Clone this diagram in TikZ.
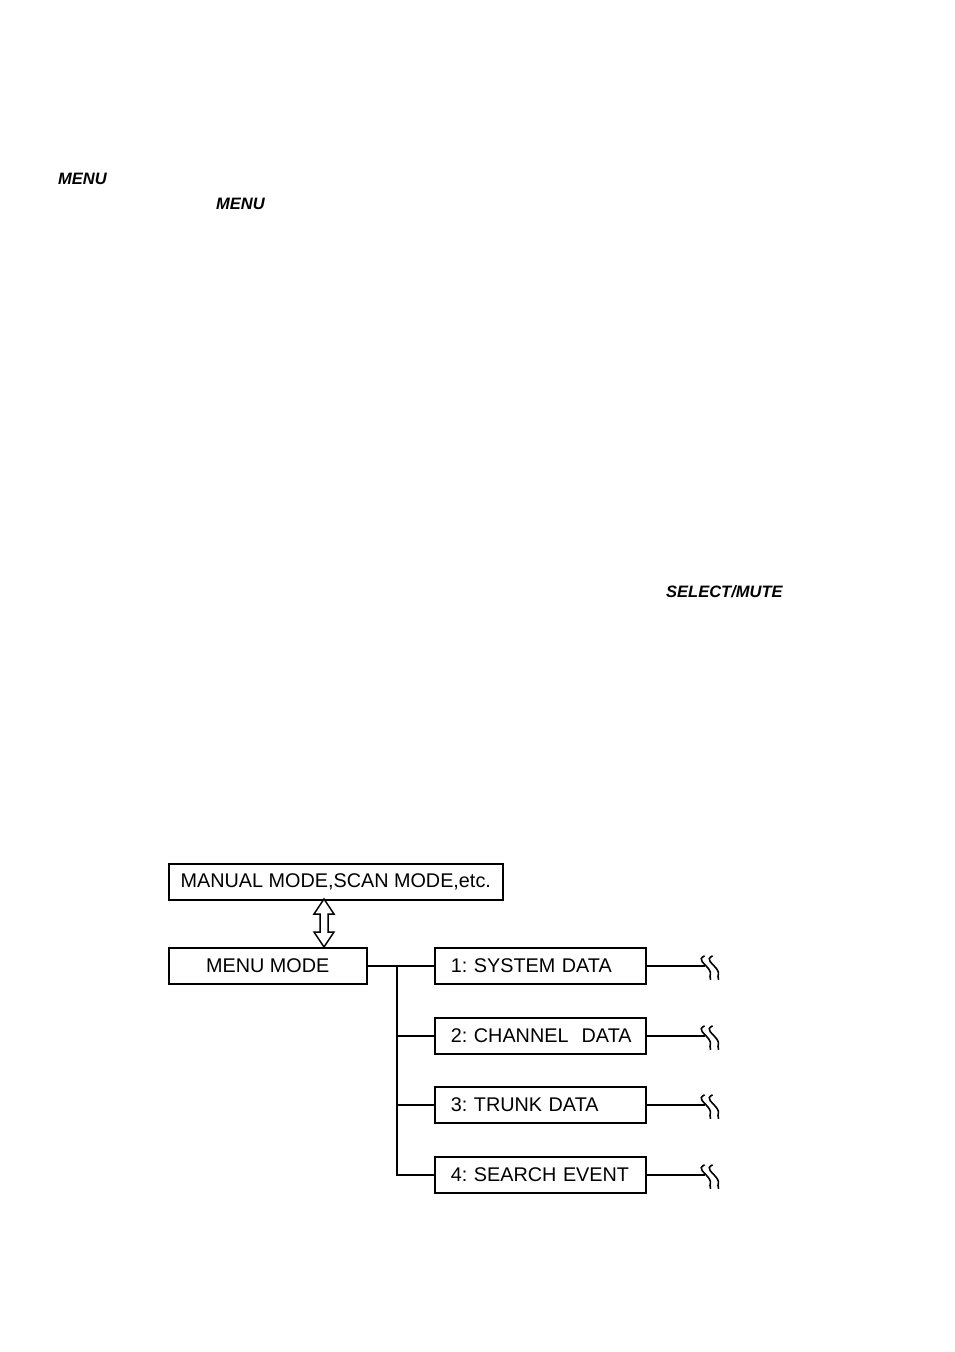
\documentclass[tikz,border=0pt]{standalone}
\usepackage{fontspec}
\setmainfont{Liberation Sans}
\usetikzlibrary{positioning,calc}

\tikzset{
  box/.style={draw, line width=1.6pt, minimum height=36pt, inner sep=0pt, font=\fontsize{19.8}{22}\selectfont},
  item/.style={box, minimum width=211pt, text width=179pt, inner xsep=16pt, align=left, anchor=north west},
  key/.style={anchor=west, inner sep=0pt, font=\fontsize{16.5}{18}\selectfont\bfseries\itshape},
  wire/.style={line width=1.6pt}
}
\newcommand{\squig}[1]{%
  \draw[wire] ($(#1)+(0,-10)$) .. controls +(-8,4) and +(-4,-6) .. ($(#1)+(4,3)$) .. controls +(4,6) and +(-2,-6) .. ($(#1)+(6,14)$);
  \draw[wire] ($(#1)+(8,-10)$) .. controls +(-8,4) and +(-4,-6) .. ($(#1)+(12,3)$) .. controls +(4,6) and +(-2,-6) .. ($(#1)+(14,14)$);}

\begin{document}
\begin{tikzpicture}[x=1pt, y=-1pt]
\useasboundingbox (0,0) rectangle (954,1352);

% keys in the text
\node[key] (k1) at (58,179) {MENU};
\node[key] (k2) at (216,204) {MENU};
\node[key] (k3) at (666,592) {SELECT/MUTE};

% diagram
\node[box, minimum width=334pt, anchor=north west] (mode) at (168,863) {MANUAL MODE,SCAN MODE,etc.};
\node[box, minimum width=198pt, anchor=north west] (menu) at (168,947) {MENU MODE};

\node[item] (m1) at (434,947) {1:~SYSTEM DATA};
\node[item] (m2) at (434,1017) {\mbox{2:~CHANNEL~~DATA}};
\node[item] (m3) at (434,1086) {3:~TRUNK DATA};
\node[item] (m4) at (434,1156) {4:~SEARCH EVENT};

% open double arrow
\draw[line width=1.5pt, fill=white, line join=miter] (324,899) -- (334,914) -- (328,914) -- (328,932) -- (334,932)
  -- (324,947) -- (314,932) -- (320,932) -- (320,914) -- (314,914) -- cycle;

% tree
\coordinate (top) at (397,965);
\draw[wire] (menu.east) -- (m1.west);
\draw[wire] (top) |- (m4.west);
\draw[wire] (m2.west) -- (m2.west -| top);
\draw[wire] (m3.west) -- (m3.west -| top);

\foreach \m in {m1,m2,m3,m4}{
  \coordinate (e\m) at ($(\m.east)+(58,0)$);
  \draw[wire] (\m.east) -- (e\m);
  \squig{e\m}
}
\end{tikzpicture}
\end{document}
